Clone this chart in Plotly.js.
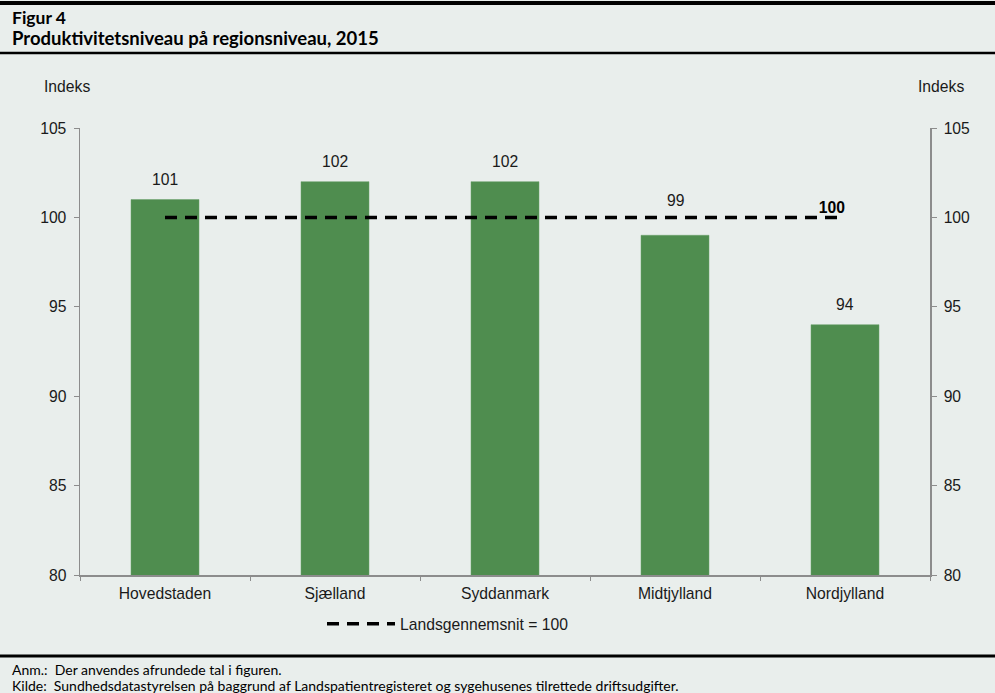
<!DOCTYPE html>
<html>
<head>
<meta charset="utf-8">
<script src="https://cdn.plot.ly/plotly-3.0.1.min.js"></script>
<style>
  html, body { margin:0; padding:0; background:#e9eeec; }
  #chart { width:995px; height:693px; }
</style>
</head>
<body>
<div id="chart"></div>
<script>
// regions and index values (rounded, as in the figure)
const regions  = ['Hovedstaden','Sjælland','Syddanmark','Midtjylland','Nordjylland'];
const indeks   = [101, 102, 102, 99, 94];
const average  = [100, 100, 100, 100, 100];
const yTicks   = [80, 85, 90, 95, 100, 105];

const BG    = '#e9eeec';
const GREEN = '#4f8d4f';
const AXIS  = '#8c8c8c';
const FONT  = { family:'Liberation Sans, Arial, sans-serif', color:'#1a1a1a', size:15.7 };
const NOTE  = 'Lato, Carlito, sans-serif';

// plot area in pixels: x 80..930, y 128..575
const px = x => (x - 80) / 850;
const py = y => (575 - y) / 447;

const hline = (y, w) => ({ type:'line', xref:'paper', yref:'paper',
  x0:px(0), x1:px(995), y0:py(y), y1:py(y), line:{ color:'#000', width:w } });

const bars = {
  type:'bar', x:regions, y:indeks, width:0.4,
  marker:{ color:GREEN, line:{ color:'#6aa06a', width:0.5 } },
  showlegend:false, hoverinfo:'x+y',
};

const avgLine = {
  type:'scatter', mode:'lines+text', x:regions, y:average,
  name:'Landsgennemsnit = 100',
  line:{ color:'#000', width:3.5, dash:'12px,8px' },
  text:average.map((v, i) => i === average.length - 1 ? '<b>' + v + '</b>' : ''),
  textposition:'top left', textfont:{ ...FONT, color:'#000' },
  cliponaxis:false,
};

// bar value labels; a label that would sit on the average line is lifted above it
const barLabels = regions.map((r, i) => {
  const clash = indeks[i] < average[i] && average[i] - indeks[i] < 2;
  return { x:r, y:clash ? average[i] : indeks[i], xref:'x', yref:'y',
           text:String(indeks[i]), showarrow:false, yanchor:'bottom',
           yshift:clash ? 6 : 10, font:FONT };
});

const yaxisBase = {
  range:[80, 105], tickvals:yTicks, ticks:'outside', ticklen:5, tickcolor:AXIS,
  showline:true, linecolor:AXIS, linewidth:1.5, showgrid:false, zeroline:false,
  tickfont:FONT, fixedrange:true,
};

Plotly.newPlot('chart', [bars, avgLine], {
  width:995, height:693,
  paper_bgcolor:BG, plot_bgcolor:BG,
  font:FONT,
  margin:{ l:80, r:65, t:128, b:118 },
  bargap:0.6,
  xaxis:{ showline:true, linecolor:AXIS, linewidth:1.5, ticks:'outside', ticklen:4,
          tickcolor:AXIS, tickson:'boundaries', showgrid:false, tickfont:FONT,
          ticklabelstandoff:4 },
  yaxis:{ ...yaxisBase, ticklabelstandoff:4 },
  yaxis2:{ ...yaxisBase, overlaying:'y', side:'right', ticklabelstandoff:4 },
  legend:{ orientation:'h', x:px(322), xanchor:'left', y:py(607), yanchor:'top',
           bgcolor:'rgba(0,0,0,0)', font:FONT, itemwidth:68 },
  shapes:[ hline(3, 4), hline(53, 2.5), hline(656, 3) ],
  annotations:[
    ...barLabels,
    { xref:'paper', yref:'paper', x:px(10), y:py(17), xanchor:'left', yanchor:'middle',
      text:'<b>Figur 4</b>', showarrow:false, font:{ family:NOTE, size:17.5, color:'#000' } },
    { xref:'paper', yref:'paper', x:px(10), y:py(38), xanchor:'left', yanchor:'middle',
      text:'<b>Produktivitetsniveau på regionsniveau, 2015</b>', showarrow:false,
      font:{ family:NOTE, size:18.5, color:'#000' } },
    { xref:'paper', yref:'paper', x:px(42), y:py(87), xanchor:'left', yanchor:'middle',
      text:'Indeks', showarrow:false, font:FONT },
    { xref:'paper', yref:'paper', x:px(966), y:py(87), xanchor:'right', yanchor:'middle',
      text:'Indeks', showarrow:false, font:FONT },
    { xref:'paper', yref:'paper', x:px(10), y:py(669), xanchor:'left', yanchor:'middle',
      text:'Anm.:  Der anvendes afrundede tal i figuren.', showarrow:false,
      font:{ family:NOTE, size:14, color:'#000' } },
    { xref:'paper', yref:'paper', x:px(10), y:py(685), xanchor:'left', yanchor:'middle',
      text:'Kilde:  Sundhedsdatastyrelsen på baggrund af Landspatientregisteret og sygehusenes tilrettede driftsudgifter.',
      showarrow:false, font:{ family:NOTE, size:14, color:'#000' } },
  ],
}, { displayModeBar:false, staticPlot:true });

// empty trace on the right axis so yaxis2 is drawn
Plotly.addTraces('chart', [{ type:'scatter', x:[regions[0]], y:[null], yaxis:'y2',
  showlegend:false, hoverinfo:'skip' }]);
</script>
</body>
</html>
